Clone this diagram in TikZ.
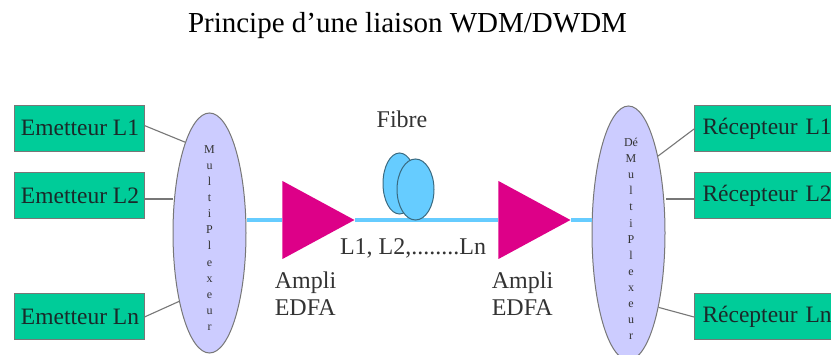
\documentclass[tikz,border=0pt]{standalone}
\usepackage{fontspec}
\setmainfont{Liberation Serif}
\usetikzlibrary{shapes.geometric}
\definecolor{boxgreen}{HTML}{00CC99}
\definecolor{muxfill}{HTML}{CCCCFF}
\definecolor{ampfill}{HTML}{DD0088}
\definecolor{fibreblue}{HTML}{66CCFF}
\definecolor{inkdark}{HTML}{1A2A2A}
\definecolor{inkgrey}{HTML}{333333}
\definecolor{edgegrey}{HTML}{777777}
\definecolor{fibreedge}{HTML}{3A6A80}
\newcommand{\fs}[1]{\fontsize{#1}{#1}\selectfont}
\tikzset{
  chanbox/.style={draw=edgegrey,line width=1pt,fill=boxgreen,rectangle,inner sep=0pt,minimum height=46pt,text=inkdark,font=\fs{23.5}},
  leftbox/.style={chanbox,minimum width=130pt},
  rightbox/.style={chanbox,text width=138pt,align=left,minimum width=146pt,inner xsep=8pt},
  muxnode/.style={draw=edgegrey,line width=1pt,fill=muxfill,ellipse,inner sep=0pt,minimum width=73pt},
  muxtext/.style={inner sep=0pt,align=center,text=inkgrey,font=\fontsize{12}{16.1}\selectfont},
  ampnode/.style={draw=none,fill=ampfill,isosceles triangle,isosceles triangle stretches,inner sep=0pt,minimum height=72pt,minimum width=78pt,anchor=apex},
  chanline/.style={draw=edgegrey,line width=1.1pt},
  fibreline/.style={draw=fibreblue,line width=3.5pt},
  spool/.style={draw=fibreedge,line width=1pt,fill=fibreblue,ellipse,inner sep=0pt},
  plainlabel/.style={inner sep=0pt,text=inkgrey,font=\fontsize{24}{27}\selectfont,align=left}
}
\begin{document}
\begin{tikzpicture}[x=1pt,y=-1pt]
\useasboundingbox (0,0) rectangle (831,355);
\clip (0,0) rectangle (831,355);
\fill[white] (0,0) rectangle (831,355);
\node[inner sep=0pt,text=black,font=\fs{29}] (title) at (407.5,26) {Principe d’une liaison WDM/DWDM};

\node[leftbox] (e1) at (79,129) {\hspace{2pt}\raisebox{3pt}{Emetteur L1}};
\node[leftbox] (e2) at (79,196) {\hspace{2pt}\raisebox{-3pt}{Emetteur L2}};
\node[leftbox] (en) at (79,317) {\hspace{2pt}\raisebox{-3pt}{Emetteur Ln}};
\node[rightbox,anchor=west] (r1) at (694,129) {\raisebox{-3pt}{Récepteur L1}};
\node[rightbox,anchor=west] (r2) at (694,196) {\raisebox{-3pt}{Récepteur L2}};
\node[rightbox,anchor=west] (rn) at (694,317) {\raisebox{-3pt}{Récepteur Ln}};

\node[muxnode,minimum height=240pt] (mux) at (209.5,233) {};
\node[muxnode,minimum height=254pt] (demux) at (628.5,233) {};
\node[muxtext] (muxlabel) at (209.5,238) {M\\u\\l\\t\\i\\P\\l\\e\\x\\e\\u\\r};
\node[muxtext] (demuxlabel) at (631,239) {Dé\\M\\u\\l\\t\\i\\P\\l\\e\\x\\e\\u\\r};

\node[ampnode] (a1) at (355,220) {};
\node[ampnode] (a2) at (571,220) {};

\draw[chanline] (e1.3) -- (mux.105.6);
\draw[chanline] (e2.east |- 0,199) -- (mux.west |- 0,199);
\draw[chanline] (en.east) -- (mux.246.8);
\draw[chanline] (r1.west) -- (demux.69.4);
\draw[chanline] (r2.west |- 0,199) -- (demux.east |- 0,199);
\draw[chanline] (rn.west) -- (demux.-68);

\draw[fibreline] (mux.east |- 0,220) -- (a1.west |- 0,220);
\draw[fibreline] (a1.apex) -- (a2.west |- 0,220);
\draw[fibreline] (a2.apex) -- (demux.west |- 0,220);

\node[spool,minimum width=33pt,minimum height=61pt] (s1) at (399.5,183.5) {};
\node[spool,minimum width=37pt,minimum height=61pt] (s2) at (415.5,189.5) {};

\node[plainlabel] (fibre) at (402,119) {Fibre};
\node[plainlabel] (lambda) at (413,248) {L1, L2,........Ln};
\node[plainlabel] (amp1) at (305.5,294) {Ampli\\EDFA};
\node[plainlabel] (amp2) at (522.5,294) {Ampli\\EDFA};
\end{tikzpicture}
\end{document}
